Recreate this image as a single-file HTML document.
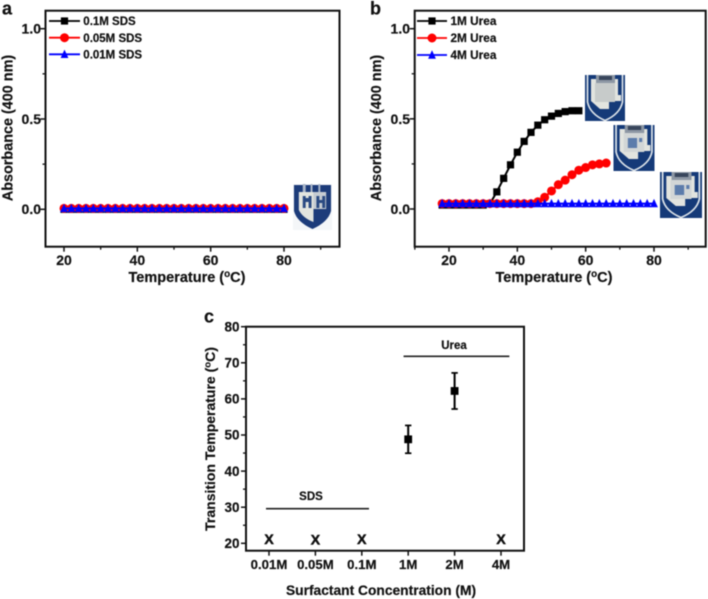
<!DOCTYPE html>
<html lang="en">
<head>
<meta charset="utf-8">
<title>Absorbance and transition temperature panels</title>
<style>
html,body{margin:0;padding:0;background:#fff;width:708px;height:599px;overflow:hidden}
svg{display:block;filter:blur(0.45px)}
text{font-family:"Liberation Sans",Arial,sans-serif;font-weight:bold;fill:#111;stroke:#111;stroke-width:0.2px}
</style>
</head>
<body>
<svg id="figure" xmlns="http://www.w3.org/2000/svg" width="708" height="599" viewBox="0 0 708 599">
</svg>
<script>
// Panel a data
const aTemps = [20,22,24,26,28,30,32,34,36,38,40,42,44,46,48,50,52,54,56,58,60,62,64,66,68,70,72,74,76,78,80];
const aBlack = [0,0,0,0,0,0,0,0,0,0,0,0,0,0,0,0,0,0,0,0,0,0,0,0,0,0,0,0,0,0,0];
const aRed = [0.005,0.005,0.005,0.005,0.005,0.005,0.005,0.005,0.005,0.005,0.005,0.005,0.005,0.005,0.005,0.005,0.005,0.005,0.005,0.005,0.005,0.005,0.005,0.005,0.005,0.005,0.005,0.005,0.005,0.005,0.005];
const aBlue = [0.005,0.005,0.005,0.005,0.005,0.005,0.005,0.005,0.005,0.005,0.005,0.005,0.005,0.005,0.005,0.005,0.005,0.005,0.005,0.005,0.005,0.005,0.005,0.005,0.005,0.005,0.005,0.005,0.005,0.005,0.005];
const aLegend = ["0.1M SDS","0.05M SDS","0.01M SDS"];

// Panel b data
const bBlackTemps = [18,20,22,24,26,28,30,32,34,36,38,40,42,44,46,48,50,52,54,56,58];
const bBlack = [0.022,0.022,0.022,0.022,0.022,0.022,0.022,0.03,0.095,0.17,0.245,0.315,0.375,0.425,0.465,0.495,0.515,0.53,0.54,0.545,0.545];
const bRedTemps = [18,20,22,24,26,28,30,32,34,36,38,40,42,44,46,48,50,52,54,56,58,60,62,64,66];
const bRed = [0.03,0.03,0.03,0.03,0.03,0.03,0.03,0.03,0.03,0.03,0.03,0.03,0.03,0.03,0.04,0.065,0.1,0.135,0.16,0.19,0.215,0.23,0.245,0.25,0.255];
const bBlueTemps = [18,20,22,24,26,28,30,32,34,36,38,40,42,44,46,48,50,52,54,56,58,60,62,64,66,68,70,72,74,76,78,80];
const bBlue = [0.03,0.03,0.03,0.03,0.03,0.03,0.03,0.03,0.03,0.03,0.03,0.03,0.03,0.03,0.03,0.03,0.03,0.03,0.03,0.03,0.03,0.03,0.03,0.03,0.03,0.03,0.03,0.03,0.03,0.03,0.03,0.03];
const bLegend = ["1M Urea","2M Urea","4M Urea"];

// Shared tick values for a and b
const absTicksMajor = [0,0.5,1];
const absTicksMinor = [0.25,0.75];
const aTempMajor = [20,40,60,80];
const aTempMinor = [30,50,70,90];
const bTempMajor = [20,40,60,80];
const bTempMinor = [10,30,50,70,90];

// Panel c data
const cCategories = ["0.01M","0.05M","0.1M","1M","2M","4M"];
const cMeasuredIdx = [3,4];
const cMeans = [48.8,62.2];
const cErrors = [3.85,5];
const cNoTransitionIdx = [0,1,2,5];
const cNoTransitionY = [21.2,21,21.2,21.2];
const cTicksMajor = [20,30,40,50,60,70,80];
const cTicksMinor = [25,35,45,55,65,75];

const NS = "http://www.w3.org/2000/svg";
const root = document.getElementById("figure");

function el(tag, attrs, parent, txt) {
  const n = document.createElementNS(NS, tag);
  for (const k in attrs) n.setAttribute(k, attrs[k]);
  if (txt !== undefined) n.textContent = txt;
  (parent || root).appendChild(n);
  return n;
}
function named(node, name, inter) {
  
  
  return node;
}
function linear(d0, r0, d1, r1) {
  return v => r0 + (v - d0) * (r1 - r0) / (d1 - d0);
}
function mark(kind, x, y, parent, size) {
  if (kind === "square") {
    const s = size || 7.2;
    return el("rect", {x: x - s / 2, y: y - s / 2, width: s, height: s, fill: "#000"}, parent);
  }
  if (kind === "circle") {
    return el("circle", {cx: x, cy: y, r: size || 4.5, fill: "#f00"}, parent);
  }
  return el("polygon", {points: (x - 3.9) + "," + (y + 3.7) + " " + (x + 3.9) + "," + (y + 3.7) + " " + x + "," + (y - 4.7), fill: "#00f"}, parent);
}
function series(parent, name, kind, color, xs, ys, X, Y) {
  const g = el("g", {}, parent);
  named(g, name, false);
  const d = xs.map((v, i) => (i ? "L" : "M") + X(v).toFixed(2) + " " + Y(ys[i]).toFixed(2)).join(" ");
  el("path", {d: d, fill: "none", stroke: color, "stroke-width": 2}, g);
  xs.forEach((v, i) => mark(kind, X(v), Y(ys[i]), g));
}
function frame(parent, l, t, r, b) {
  const f = el("rect", {x: l, y: t, width: r - l, height: b - t, fill: "none", stroke: "#111", "stroke-width": 2}, parent);
  named(f, "plot-frame", false);
}
function xTicks(parent, X, b, major, minor, labels, fs, labelY) {
  major.forEach((v, i) => {
    el("line", {x1: X(v), x2: X(v), y1: b, y2: b + 5, stroke: "#111", "stroke-width": 1.5}, parent);
    const t = el("text", {x: X(v), y: labelY, "text-anchor": "middle", "font-size": fs}, parent, labels ? labels[i] : String(v));
    named(t, "x-tick-label", false);
  });
  minor.forEach(v => el("line", {x1: X(v), x2: X(v), y1: b, y2: b + 3, stroke: "#111", "stroke-width": 1.3}, parent));
}
function yTicks(parent, Y, l, major, minor, fmt, fs, labelX) {
  major.forEach(v => {
    el("line", {x1: l - 5, x2: l, y1: Y(v), y2: Y(v), stroke: "#111", "stroke-width": 1.5}, parent);
    const t = el("text", {x: labelX, y: Y(v) + fs * 0.35, "text-anchor": "end", "font-size": fs}, parent, fmt(v));
    named(t, "y-tick-label", false);
  });
  minor.forEach(v => el("line", {x1: l - 3, x2: l, y1: Y(v), y2: Y(v), stroke: "#111", "stroke-width": 1.3}, parent));
}
function degreeTitle(parent, prefix, x, y, fs, rotate, name) {
  const attrs = {x: x, y: y, "text-anchor": "middle", "font-size": fs};
  if (rotate) attrs.transform = "rotate(-90 " + x + " " + y + ")";
  const t = el("text", attrs, parent);
  named(t, name, false);
  el("tspan", {}, t, prefix + " (");
  el("tspan", {dy: -fs * 0.33, "font-size": fs * 0.68}, t, "o");
  el("tspan", {dy: fs * 0.33}, t, "C)");
}
function legend(parent, labels, kinds, colors, x1, x2, textX, ys, fs) {
  labels.forEach((lab, i) => {
    const g = el("g", {}, parent);
    named(g, "legend-entry", false);
    el("line", {x1: x1, x2: x2, y1: ys[i], y2: ys[i], stroke: colors[i], "stroke-width": 1.8}, g);
    mark(kinds[i], (x1 + x2) / 2, ys[i], g);
    el("text", {x: textX, y: ys[i] + fs * 0.36, "font-size": fs}, g, lab);
  });
}
function logoIcon(parent, x, y, w, h) {
  const g = el("g", {transform: "translate(" + x + " " + y + ") scale(" + (w / 40) + " " + (h / 46) + ")"}, parent);
  named(g, "sds-cuvette-photo", false);
  el("rect", {x: 0, y: 0, width: 40, height: 46, fill: "#f4f6f8"}, g);
  el("path", {d: "M1 1 H39 V27 Q36 38 20 45 Q4 38 1 27 Z", fill: "#1d3c7a"}, g);
  el("path", {d: "M6 8 H21 V38 Q10 34 6 26 Z", fill: "#e3e5df"}, g);
  el("path", {d: "M21 8 H34 V25 H21 Z", fill: "#c6ccd2"}, g);
  el("path", {d: "M10 0 H13 V8 H10 Z M18 0 H20 V8 H18 Z M26 0 H28 V8 H26 Z", fill: "#aab6c8"}, g);
  el("path", {d: "M10 12 H13 V24 H10 Z M16 12 H19 V24 H16 Z M13 14 H16 V18 H13 Z M24 12 H27 V24 H24 Z M30 12 H33 V24 H30 Z M27 16 H30 V19 H27 Z", fill: "#2a4a82"}, g);
}
function photoIcon(parent, x, y, w, h, stage) {
  const g = el("g", {transform: "translate(" + x + " " + y + ") scale(" + (w / 40) + " " + (h / 46) + ")"}, parent);
  named(g, "urea-cuvette-photo", false);
  el("rect", {x: 0, y: 0, width: 40, height: 46, fill: "#153a78"}, g);
  el("path", {d: "M2.5 0 V27 Q5 39 20 45.5 Q35 39 37.5 27 V0", fill: "none", stroke: "#dbe2e8", "stroke-width": 1.7}, g);
  el("path", {d: "M6 4 H33 V20 H36 V26 H24 V34 H15 L6 26 Z", fill: "#e2e4df"}, g);
  el("rect", {x: 11, y: 0, width: 19, height: 8, fill: "#8d97a4"}, g);
  el("rect", {x: 14, y: 1, width: 13, height: 4, fill: "#39465c"}, g);
  el("rect", {x: 10, y: 8, width: 20, height: 19, fill: stage === 0 ? "#c7cbca" : "#d2d6d6"}, g);
  if (stage > 0) {
    el("rect", {x: 14, y: 13, width: 9, height: 10, fill: "#5c7cab"}, g);
    el("rect", {x: 25, y: 13, width: 3, height: 4, fill: "#5c7cab"}, g);
  }
}

/* ---------- panel a ---------- */
const pa = el("g", {}, root);
named(pa, "panel-a", false);
const aX = linear(20, 64, 80, 284);
const aY = linear(0, 209.3, 1, 28.7);
const aLetter = el("text", {x: 2, y: 14.5, "font-size": 18}, pa, "a");
named(aLetter, "panel-label-a", false);
series(pa, "series-0.1m-sds", "square", "#000", aTemps, aBlack, aX, aY);
series(pa, "series-0.05m-sds", "circle", "#f00", aTemps, aRed, aX, aY);
series(pa, "series-0.01m-sds", "triangle", "#00f", aTemps, aBlue, aX, aY);
frame(pa, 45.5, 10.7, 339.5, 246.7);
xTicks(pa, aX, 246.7, aTempMajor, aTempMinor, null, 14, 265);
yTicks(pa, aY, 45.5, absTicksMajor, absTicksMinor, v => v.toFixed(1), 14, 41);
degreeTitle(pa, "Temperature", 187, 282, 14.5, false, "x-axis-title");
const aTitle = el("text", {x: 12.5, y: 128, "text-anchor": "middle", "font-size": 14.4, transform: "rotate(-90 12.5 128)"}, pa, "Absorbance (400 nm)");
named(aTitle, "y-axis-title", false);
legend(pa, aLegend, ["square","circle","triangle"], ["#000","#f00","#00f"], 49, 80, 83.3, [21, 37.7, 54.3], 11.5);
logoIcon(pa, 293, 184, 39, 46);

/* ---------- panel b ---------- */
const pb = el("g", {}, root);
named(pb, "panel-b", false);
const bX = linear(20, 449, 80, 654);
const bY = linear(0, 209, 1, 28.7);
const bLetter = el("text", {x: 370, y: 14.5, "font-size": 18}, pb, "b");
named(bLetter, "panel-label-b", false);
series(pb, "series-1m-urea", "square", "#000", bBlackTemps, bBlack, bX, bY);
series(pb, "series-2m-urea", "circle", "#f00", bRedTemps, bRed, bX, bY);
series(pb, "series-4m-urea", "triangle", "#00f", bBlueTemps, bBlue, bX, bY);
frame(pb, 414.7, 10.7, 705.7, 246.7);
xTicks(pb, bX, 246.7, bTempMajor, bTempMinor, null, 14, 265);
yTicks(pb, bY, 414.7, absTicksMajor, absTicksMinor, v => v.toFixed(1), 14, 410);
degreeTitle(pb, "Temperature", 554, 282, 14.5, false, "x-axis-title");
const bTitle = el("text", {x: 381, y: 128, "text-anchor": "middle", "font-size": 14.4, transform: "rotate(-90 381 128)"}, pb, "Absorbance (400 nm)");
named(bTitle, "y-axis-title", false);
legend(pb, bLegend, ["square","circle","triangle"], ["#000","#f00","#00f"], 417, 447, 450.5, [21, 38, 55], 11.8);
photoIcon(pb, 585, 75, 40, 46, 0);
photoIcon(pb, 613.5, 125, 41, 46, 1);
photoIcon(pb, 660, 172, 42, 46, 2);

/* ---------- panel c ---------- */
const pc = el("g", {}, root);
named(pc, "panel-c", false);
const cX = linear(0, 269, 5, 501);
const cY = linear(20, 543.3, 80, 326.7);
const cLetter = el("text", {x: 204, y: 322.5, "font-size": 18}, pc, "c");
named(cLetter, "panel-label-c", false);
frame(pc, 246, 326.7, 524, 550.7);
xTicks(pc, cX, 550.7, cCategories.map((c, i) => i), [], cCategories, 13.2, 569);
yTicks(pc, cY, 246, cTicksMajor, cTicksMinor, v => String(v), 13.5, 239.5);
const cXT = el("text", {x: 381, y: 595, "text-anchor": "middle", "font-size": 13.8}, pc, "Surfactant Concentration (M)");
named(cXT, "x-axis-title", false);
degreeTitle(pc, "Transition Temperature", 215, 439, 14, true, "y-axis-title");

cMeasuredIdx.forEach((idx, i) => {
  const g = el("g", {}, pc);
  named(g, "data-point-with-error-bar", false);
  const x = cX(idx), hi = cY(cMeans[i] + cErrors[i]), lo = cY(cMeans[i] - cErrors[i]);
  el("line", {x1: x, x2: x, y1: hi, y2: lo, stroke: "#000", "stroke-width": 2}, g);
  el("line", {x1: x - 3.2, x2: x + 3.2, y1: hi, y2: hi, stroke: "#000", "stroke-width": 1.7}, g);
  el("line", {x1: x - 3.2, x2: x + 3.2, y1: lo, y2: lo, stroke: "#000", "stroke-width": 1.7}, g);
  mark("square", x, cY(cMeans[i]), g, 7.8);
});
cNoTransitionIdx.forEach((idx, i) => {
  const t = el("text", {x: cX(idx), y: cY(cNoTransitionY[i]) + 4.8, "text-anchor": "middle", "font-size": 14, style: "stroke-width:0.5px"}, pc, "X");
  named(t, "no-transition-marker", false);
});

const sdsBar = el("line", {x1: cX(-0.065), x2: cX(2.155), y1: cY(29.6), y2: cY(29.6), stroke: "#222", "stroke-width": 1.6}, pc);
named(sdsBar, "sds-group-bar", false);
const ureaBar = el("line", {x1: cX(2.9), x2: cX(5.18), y1: cY(71.8), y2: cY(71.8), stroke: "#222", "stroke-width": 1.6}, pc);
named(ureaBar, "urea-group-bar", false);
const sdsLab = el("text", {x: 311, y: 500, "text-anchor": "middle", "font-size": 11.5}, pc, "SDS");
named(sdsLab, "sds-group-label", false);
const ureaLab = el("text", {x: 454, y: 349, "text-anchor": "middle", "font-size": 11.5}, pc, "Urea");
named(ureaLab, "urea-group-label", false);
</script>
</body>
</html>
